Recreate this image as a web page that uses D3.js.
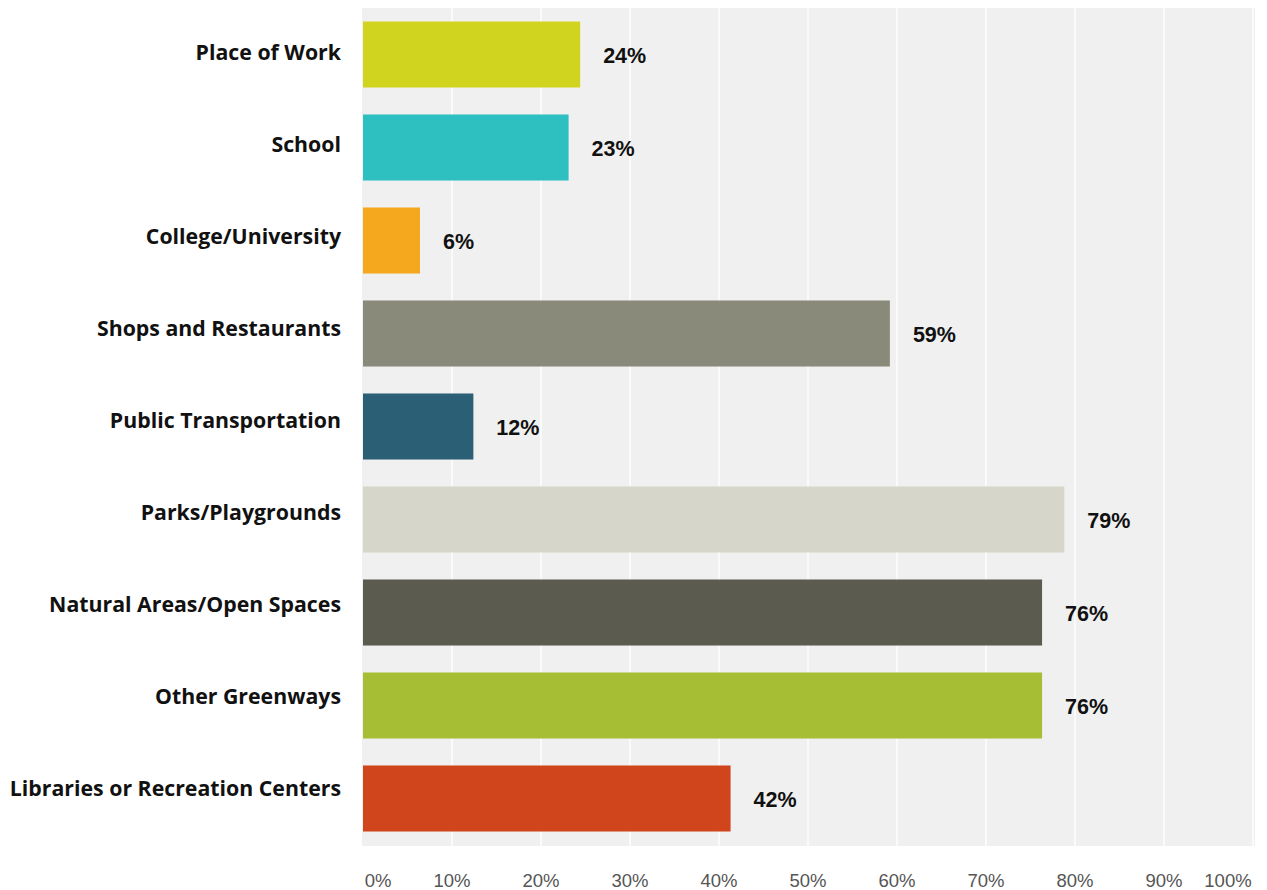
<!DOCTYPE html>
<html><head><meta charset="utf-8">
<script src="https://cdn.jsdelivr.net/npm/d3@7"></script>
<style>body{margin:0;background:#fff}svg{display:block}</style>
</head><body>
<svg id="c" width="1267" height="890"></svg>
<script>
const categories = ["Place of Work","School","College/University","Shops and Restaurants","Public Transportation","Parks/Playgrounds","Natural Areas/Open Spaces","Other Greenways","Libraries or Recreation Centers"];
const values = [24.4, 23.1, 6.4, 59.2, 12.4, 78.8, 76.3, 76.3, 41.3];
const valueLabels = ["24%","23%","6%","59%","12%","79%","76%","76%","42%"];
const colors = ["#d0d41f","#2ebfc0","#f5a71d","#8a8a7a","#2b5f75","#d7d6ca","#5b5b4f","#a5be34","#d0451b"];
const ticks = [0,10,20,30,40,50,60,70,80,90,100];
const tickLabels = ["0%","10%","20%","30%","40%","50%","60%","70%","80%","90%","100%"];

const svg = d3.select("#c");
const x = d3.scaleLinear().domain([0,100]).range([363,1253]);
const y = d3.scaleBand().domain(categories).range([8,845]).paddingInner(0.29).paddingOuter(0.145);
const yLab = d3.scalePoint().domain(categories).range([52,788]);

svg.append("rect").attr("x",362).attr("y",8).attr("width",1255-362).attr("height",846-8).attr("fill","#f0f0f0");

svg.append("g").selectAll("line").data(ticks.slice(1)).join("line")
  .attr("x1",d=>x(d)).attr("x2",d=>x(d)).attr("y1",8).attr("y2",846)
  .attr("stroke","#fafafa").attr("stroke-width",2);

svg.append("g").selectAll("rect").data(categories).join("rect")
  .attr("x",x(0)).attr("y",d=>y(d)).attr("width",(d,i)=>x(values[i])-x(0)).attr("height",y.bandwidth())
  .attr("fill",(d,i)=>colors[i]);

svg.append("g").selectAll("text").data(categories).join("text")
  .attr("x",(d,i)=>x(values[i])+23).attr("y",d=>y(d)+y.bandwidth()/2+8)
  .attr("font-family","Liberation Sans, Arial, sans-serif").attr("font-weight","bold").attr("font-size",21.5)
  .attr("fill","#111").text((d,i)=>valueLabels[i]);

svg.append("g").selectAll("text").data(categories).join("text")
  .attr("x",341).attr("y",d=>yLab(d)+7.5)
  .attr("text-anchor","end")
  .attr("font-family","Open Sans, sans-serif").attr("font-weight","bold").attr("font-size",21.3)
  .attr("fill","#111").text(d=>d);

svg.append("g").selectAll("text").data(ticks).join("text")
  .attr("x",(d,i)=> i===0 ? x(d)+15 : (i===ticks.length-1 ? x(d)-25 : x(d)))
  .attr("y",887).attr("text-anchor","middle")
  .attr("font-family","Liberation Sans, Arial, sans-serif").attr("font-size",18.5)
  .attr("fill","#555").text((d,i)=>tickLabels[i]);
</script>
</body></html>
